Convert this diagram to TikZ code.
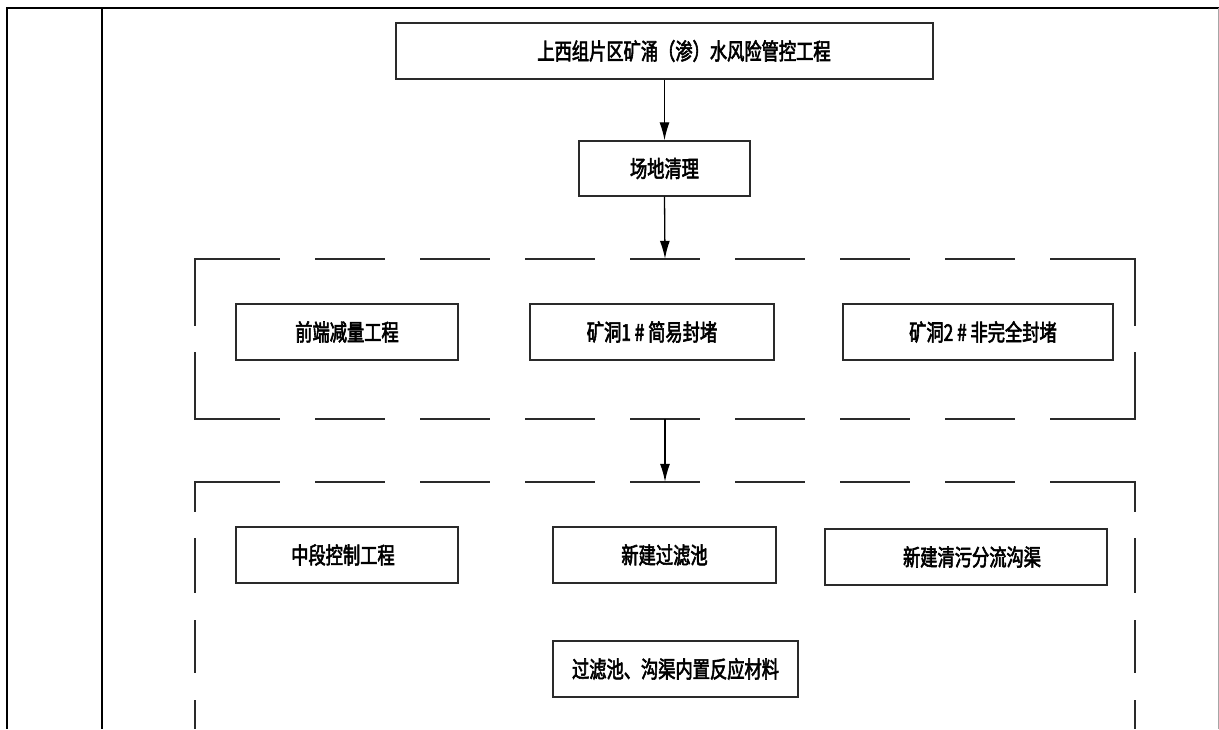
\documentclass[tikz,border=0pt]{standalone}
\usepackage{fontspec}
\newfontfamily\cjk[FakeStretch=0.75,FakeBold=2.5]{Noto Sans CJK SC}
\usetikzlibrary{arrows.meta}
\definecolor{ln}{HTML}{2A2A2A}
\tikzset{
  box/.style={draw=ln, line width=1.4pt, inner sep=0pt, font=\cjk\fontsize{23}{26}\selectfont, text=black},
  arr/.style={draw=black, line width=1.3pt, -{Latex[length=18pt,width=10pt]}},
  dsh/.style={draw=ln, line width=1.5pt},
  frame/.style={draw=black, line width=2.8pt},
  thin/.style={draw=black, line width=1.4pt}
}
\begin{document}
\begin{tikzpicture}[x=1pt,y=-1pt]
\useasboundingbox (0,0) rectangle (1219,729);
\fill[white] (0,0) rectangle (1219,729);
% table frame
\coordinate (tl) at (7,8);
\coordinate (tr) at (1219,8);
\coordinate (bl) at (7,729);
\coordinate (il) at (102,8);
\coordinate (ib) at (102,729);
\draw[frame] (tr) -- (tl) -- (bl);
\draw[thin] (il) -- (ib);
\draw[draw=black!35, line width=1pt] (1218,8) -- (1218,729);
% boxes
\node[box, minimum width=537, minimum height=56] (top) at (664.5,51) {\raisebox{-4pt}{\hspace{39pt}上西组片区矿涌（渗）水风险管控工程}};
\node[box, minimum width=171, minimum height=55] (clean) at (664.5,168.5) {场地清理};
% group 1
\node[minimum width=940, minimum height=160, inner sep=0pt] (g1) at (665,339) {};
\node[box, minimum width=222, minimum height=56] (a1) at (347,332) {前端减量工程};
\node[box, minimum width=244, minimum height=56] (a2) at (652,332) {矿洞1\,\#\,简易封堵};
\node[box, minimum width=270, minimum height=56] (a3) at (978,332) {\hspace{10pt}矿洞2\,\#\,非完全封堵};
% group 2
\node[minimum width=940, minimum height=247, inner sep=0pt] (g2) at (665,605.5) {};
\node[box, minimum width=222, minimum height=56] (b1) at (347,555) {\hspace{-8pt}中段控制工程};
\node[box, minimum width=223, minimum height=56] (b2) at (664.5,555) {新建过滤池};
\node[box, minimum width=282, minimum height=56] (b3) at (966,557) {\hspace{12pt}新建清污分流沟渠};
\node[box, minimum width=245, minimum height=56] (b4) at (675.5,669) {过滤池、沟渠内置反应材料};
% dashed group frames
\foreach \yy in {259,419,482}{
  \draw[dsh] (195,\yy) -- (280,\yy);
  \foreach \k in {0,...,6}{
    \draw[dsh] ({315+105*\k},\yy) -- ({385+105*\k},\yy);
  }
  \draw[dsh] (1050,\yy) -- (1135,\yy);
}
\foreach \xx in {195,1135}{
  \draw[dsh] (\xx,258.25) -- (\xx,326);
  \draw[dsh] (\xx,352) -- (\xx,419.75);
  \draw[dsh] (\xx,481.25) -- (\xx,512);
  \draw[dsh] (\xx,538) -- (\xx,593);
  \draw[dsh] (\xx,620) -- (\xx,673);
  \draw[dsh] (\xx,700) -- (\xx,729);
}
% connectors
\draw[arr] (top.south) -- (clean.north);
\draw[arr] (clean.south) -- (g1.north);
\draw[arr] (g1.south) -- (g2.north);
\end{tikzpicture}
\end{document}
